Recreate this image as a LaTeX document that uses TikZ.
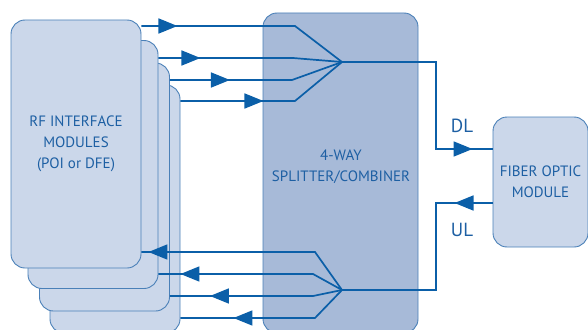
\documentclass[tikz,border=0pt]{standalone}
\usepackage{fontspec}
\setmainfont{PT Sans}
\usetikzlibrary{arrows.meta}
\usetikzlibrary{positioning}
\usetikzlibrary{decorations.markings}

\definecolor{linkblue}{HTML}{0B5FA8}
\definecolor{edgeblue}{HTML}{4A80B8}
\definecolor{modfill}{HTML}{CBD7EA}
\definecolor{splitfill}{HTML}{A7BAD8}
\definecolor{textblue}{HTML}{1D5FA3}

\begin{document}
\begin{tikzpicture}[x=1pt,y=-1pt,>={Triangle[length=19pt,width=15pt]},
    module/.style={draw=edgeblue,fill=modfill,line width=0.9pt,rounded corners=14pt,minimum width=130pt,minimum height=248pt,inner sep=0pt},
    txt/.style={text=textblue,align=center,font=\fontsize{15}{21}\selectfont},
    link/.style={draw=linkblue,color=linkblue,line width=1.7pt},
    mid/.style={postaction={decorate},decoration={markings,mark=at position #1 with {\arrow{>}}}}]

        \useasboundingbox (0,0) rectangle (588,329);
        \clip (0,0) rectangle (588,329);

        % stack of rf modules, back to front
        \node[module] (rf4) at (115,209) {};
        \node[module] (rf3) at (104.5,187) {};
        \node[module] (rf2) at (93,164.5) {};
        \node[module,txt] (rf1) at (76,144) {RF INTERFACE\\MODULES\\(POI or DFE)};

        \node[module,fill=splitfill,minimum width=155pt,minimum height=320pt] (split) at (340.5,173) {};
        \node[txt] (splitlbl) at (341,167) {4-WAY\\SPLITTER/COMBINER};

        \node[module,txt,minimum width=95pt,minimum height=130pt] (fo) at (540.5,182) {FIBER OPTIC\\MODULE};

        \coordinate (dj) at (342,62);
        \coordinate (uj) at (342,290);

        % downlink
        \draw[link,mid=36pt] (rf1.east |- 0,26) -- (295,26) -- (dj);
        \draw[link,mid=42pt] (rf2.east |- 0,58) -- (293,58) -- (dj);
        \draw[link,mid=60pt] (rf3.east |- 0,80) -- (292,80) -- (dj);
        \draw[link,mid=83pt] (rf4.east |- 0,101) -- (295,101) -- (dj);
        \draw[link,mid=-20pt] (dj) -- (436,62) -- (436,149) -- (fo.west |- 0,149);

        % uplink
        \draw[link,mid=38pt] (fo.west |- 0,203) -- (436,203) -- (436,290) -- (uj);
        \draw[link,mid=-7pt] (uj) -- (315,252) -- (rf1.east |- 0,252);
        \draw[link,mid=-22pt] (uj) -- (313,274) -- (rf2.east |- 0,274);
        \draw[link,mid=-40pt] (uj) -- (313,296) -- (rf3.east |- 0,296);
        \draw[link,mid=-53pt] (uj) -- (315,318) -- (rf4.east |- 0,318);

        \node[txt,font=\fontsize{19}{22}\selectfont] (dl) at (462,126) {DL};
        \node[txt,font=\fontsize{19}{22}\selectfont] (ul) at (462,230) {UL};
\end{tikzpicture}
\end{document}
